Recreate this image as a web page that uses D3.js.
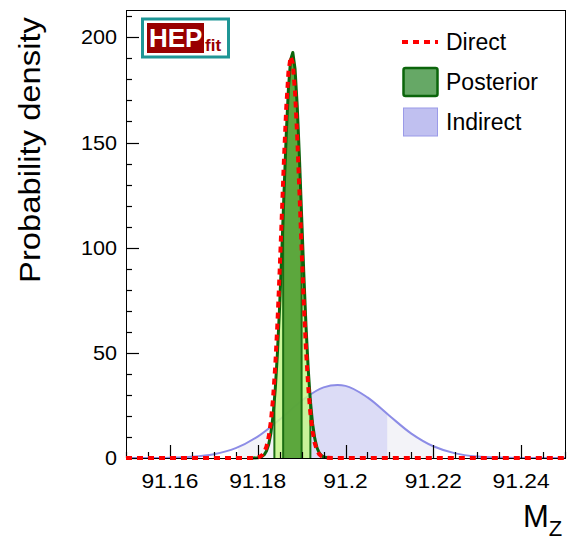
<!DOCTYPE html>
<html>
<head>
<meta charset="utf-8">
<script src="https://cdn.jsdelivr.net/npm/d3@7"></script>
<style>
  body { margin: 0; background: #fff; }
  svg { display: block; font-family: "Liberation Sans", Arial, Helvetica, sans-serif; }
</style>
</head>
<body>
<svg id="chart" width="567" height="542"></svg>
<script>
// M_Z probability densities (HEPfit style plot)

// --- Data ---

// common grid for the narrow direct / posterior curves
const massX = [91.178, 91.179, 91.180, 91.1805, 91.181, 91.1815, 91.182, 91.1825, 91.183, 91.1835,
  91.184, 91.1845, 91.185, 91.1855, 91.186, 91.1865, 91.187, 91.1875, 91.188, 91.1885,
  91.189, 91.1895, 91.190, 91.1905, 91.191, 91.1915, 91.192, 91.1925, 91.193, 91.1935,
  91.194, 91.1945, 91.195, 91.196, 91.197];
const directY = [0, 0.04, 0.27, 0.63, 1.37, 2.81, 5.45, 10.0, 17.3, 28.4,
  43.9, 64.3, 88.8, 115.8, 142.9, 166.5, 183.4, 190.9, 187.6, 174.2,
  152.9, 126.8, 99.4, 73.6, 51.5, 34.1, 21.3, 12.6, 7.0, 3.7,
  1.84, 0.86, 0.38, 0.06, 0];
const posteriorY = [0, 0.02, 0.13, 0.32, 0.75, 1.62, 3.32, 6.42, 11.7, 20.2,
  32.7, 50.1, 72.3, 98.5, 126.6, 153.6, 175.6, 189.4, 192.8, 185.1,
  167.6, 143.2, 115.4, 87.7, 62.9, 42.5, 27.1, 16.3, 9.3, 4.97,
  2.51, 1.20, 0.54, 0.09, 0];

// broad indirect determination
const indirectX = [91.150, 91.155, 91.160, 91.165, 91.170, 91.175, 91.180, 91.185, 91.190, 91.195,
  91.200, 91.205, 91.210, 91.215, 91.220, 91.225, 91.230, 91.235, 91.240, 91.245, 91.250];
const indirectY = [0.01, 0.03, 0.15, 0.57, 1.79, 4.70, 10.2, 18.3, 27.2, 33.6,
  34.3, 28.8, 20.1, 11.6, 5.57, 2.20, 0.72, 0.20, 0.04, 0.01, 0];

// probability intervals [low, high]
const posterior95 = [91.1838, 91.1920];
const posterior68 = [91.1858, 91.1900];
const posteriorEdge95 = [28, 28];     // density at interval edges
const posteriorEdge68 = [117, 116];
const indirect95 = [91.1755, 91.2205];
const indirect68 = [91.1865, 91.2095];

const xTickValues = [91.16, 91.18, 91.2, 91.22, 91.24];
const yTickValues = [0, 50, 100, 150, 200];
const legendLabels = ['Direct', 'Posterior', 'Indirect'];

// --- Layout ---

const frame = { left: 126, right: 565, top: 10, bottom: 458 };
const svg = d3.select('#chart');

const x = d3.scaleLinear().domain([91.15, 91.25]).range([frame.left, frame.right]);
const y = d3.scaleLinear().domain([0, 213]).range([frame.bottom, frame.top]);

const pts = (xs, ys) => xs.map((v, i) => [v, ys[i]]);
const directPts = [[91.15, 0]].concat(pts(massX, directY), [[91.25, 0]]);
const posteriorPts = pts(massX, posteriorY);
const indirectPts = pts(indirectX, indirectY);

function label(parent, px, py, s, size, o = {}) {
  const t = parent.append('text')
    .attr('transform', `translate(${px},${py})` + (o.rot ? ` rotate(${o.rot})` : '') + ` scale(${o.sx || 1},1)`)
    .attr('font-size', size)
    .attr('text-anchor', o.anchor || 'start')
    .attr('fill', o.fill || '#000')
    .text(s);
  if (o.bold) t.attr('font-weight', 'bold');
  return t;
}

// clip rectangles for the interval bands
const defs = svg.append('defs');
function clipFor(id, band) {
  defs.append('clipPath').attr('id', id)
    .append('rect')
    .attr('x', x(band[0])).attr('width', x(band[1]) - x(band[0]))
    .attr('y', frame.top).attr('height', frame.bottom - frame.top);
  return `url(#${id})`;
}

const plot = svg.append('g');

// --- Indirect ---

const indArea = d3.area().x(d => x(d[0])).y0(y(0)).y1(d => y(d[1])).curve(d3.curveCatmullRom);
const indLine = d3.line().x(d => x(d[0])).y(d => y(d[1])).curve(d3.curveCatmullRom);

plot.append('path').datum(indirectPts).attr('d', indArea)
  .attr('fill', '#f3f3f8').attr('clip-path', clipFor('ind95', indirect95));
plot.append('path').datum(indirectPts).attr('d', indArea)
  .attr('fill', '#dcdcf6').attr('clip-path', clipFor('ind68', indirect68));
plot.append('path').datum(indirectPts).attr('d', indLine)
  .attr('fill', 'none').attr('stroke', '#8c8ce6').attr('stroke-width', 2);

// --- Posterior ---

const postArea = d3.area().x(d => x(d[0])).y0(y(0)).y1(d => y(d[1]));
const postLine = d3.line().x(d => x(d[0])).y(d => y(d[1]));

plot.append('path').datum(posteriorPts).attr('d', postArea)
  .attr('fill', '#c4f68a').attr('fill-opacity', 0.85).attr('clip-path', clipFor('post95', posterior95));
plot.append('path').datum(posteriorPts).attr('d', postArea)
  .attr('fill', '#4c9c30').attr('fill-opacity', 0.88).attr('clip-path', clipFor('post68', posterior68));

[[posterior95, posteriorEdge95], [posterior68, posteriorEdge68]].forEach(([band, edge]) => {
  band.forEach((v, i) => {
    plot.append('line')
      .attr('x1', x(v)).attr('x2', x(v))
      .attr('y1', y(0)).attr('y2', y(edge[i]))
      .attr('stroke', '#1b6e12').attr('stroke-width', 2);
  });
});

plot.append('path').datum(posteriorPts).attr('d', postLine)
  .attr('fill', 'none').attr('stroke', '#0b650b').attr('stroke-width', 3)
  .attr('stroke-linejoin', 'round');

// --- Frame and axes ---

const axes = svg.append('g');
axes.append('rect')
  .attr('x', frame.left + 0.5).attr('y', frame.top + 0.5)
  .attr('width', frame.right - frame.left).attr('height', frame.bottom - frame.top)
  .attr('fill', 'none').attr('stroke', '#000').attr('stroke-width', 1);

const crisp = v => Math.round(v) + 0.5;

x.ticks(20).forEach(v => {
  const major = xTickValues.some(t => Math.abs(t - v) < 1e-6);
  axes.append('line')
    .attr('x1', crisp(x(v))).attr('x2', crisp(x(v)))
    .attr('y1', frame.bottom).attr('y2', frame.bottom - (major ? 13 : 6))
    .attr('stroke', '#000').attr('stroke-width', 1.2);
});
y.ticks(20).forEach(v => {
  const major = yTickValues.includes(v);
  axes.append('line')
    .attr('x1', frame.left).attr('x2', frame.left + (major ? 13 : 6))
    .attr('y1', crisp(y(v))).attr('y2', crisp(y(v)))
    .attr('stroke', '#000').attr('stroke-width', 1.2);
});

xTickValues.forEach(v => label(axes, x(v), 488, String(v), 20, { anchor: 'middle', sx: 1.14 }));
yTickValues.forEach(v => label(axes, 117, y(v) + 7, String(v), 20, { anchor: 'end', sx: 1.08 }));

label(axes, 40, 150, 'Probability density', 29, { anchor: 'middle', rot: -90, sx: 1.13 });
const mz = axes.append('text').attr('x', 523).attr('y', 527).attr('font-size', 31);
mz.append('tspan').text('M');
mz.append('tspan').attr('font-size', 22).attr('dy', 9).text('Z');

// --- Direct (on top) ---

axes.raise();
svg.append('path').datum(directPts)
  .attr('d', d3.line().x(d => x(d[0])).y(d => y(d[1])))
  .attr('fill', 'none').attr('stroke', '#ff0000').attr('stroke-width', 4)
  .attr('stroke-dasharray', '6,5');

// --- Logo ---

const logo = svg.append('g');
logo.append('rect').attr('x', 142.5).attr('y', 19).attr('width', 86).attr('height', 38)
  .attr('fill', '#fff').attr('stroke', '#1f9696').attr('stroke-width', 3);
logo.append('rect').attr('x', 147).attr('y', 23).attr('width', 57).attr('height', 30)
  .attr('fill', '#990000');
label(logo, 149, 47, 'HEP', 26, { bold: true, fill: '#fff' });
label(logo, 205, 51, 'fit', 17, { bold: true, fill: '#990000' });

// --- Legend ---

const legend = svg.append('g');
const legendY = [42, 82, 122];
legend.append('line').attr('x1', 402).attr('x2', 438).attr('y1', legendY[0]).attr('y2', legendY[0])
  .attr('stroke', '#ff0000').attr('stroke-width', 4).attr('stroke-dasharray', '6,5');
legend.append('rect').attr('x', 403.5).attr('y', legendY[1] - 14).attr('width', 34).attr('height', 28)
  .attr('rx', 2).attr('fill', '#66a866').attr('stroke', '#0b650b').attr('stroke-width', 2.5);
legend.append('rect').attr('x', 403.5).attr('y', legendY[2] - 14).attr('width', 34).attr('height', 28)
  .attr('fill', '#c0c0f0').attr('stroke', '#9a9ae8').attr('stroke-width', 1);
legendLabels.forEach((s, i) => label(legend, 446, legendY[i] + 8, s, 23));
</script>
</body>
</html>
